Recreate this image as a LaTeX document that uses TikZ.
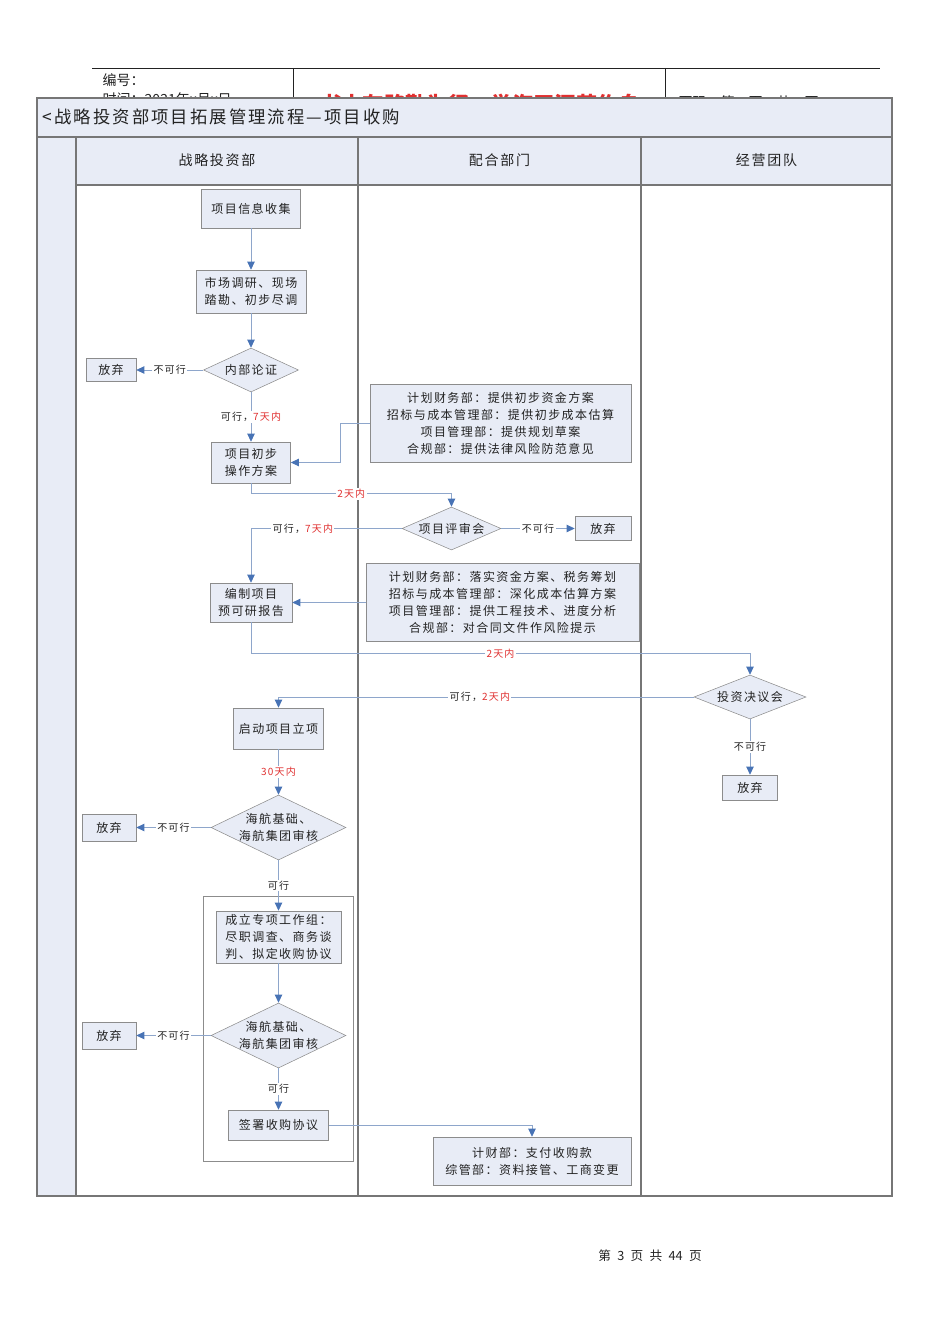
\documentclass[tikz,border=0pt]{standalone}
\usepackage{fontspec}
\setmainfont{Noto Sans CJK SC}[LetterSpace=12]
\newfontfamily\plain{Noto Sans CJK SC}
\usetikzlibrary{arrows.meta,shapes.geometric}
\definecolor{ink}{HTML}{222222}
\definecolor{pale}{HTML}{E8ECF6}
\definecolor{rule}{HTML}{8C8C8C}
\definecolor{frame}{HTML}{767676}
\definecolor{wire}{HTML}{8EA6CB}
\definecolor{arrowblue}{HTML}{4873B5}
\definecolor{hot}{HTML}{E03030}
\newcommand{\due}[1]{\textcolor{hot}{#1}}

\begin{document}
\begin{tikzpicture}[x=0.75pt,y=-0.75pt,text=ink,
 box/.style={draw=rule,fill=pale,inner sep=2pt,align=center,font=\fontsize{9pt}{12.75pt}\selectfont},
 gate/.style={diamond,draw=rule,fill=pale,inner sep=0pt},
 gt/.style={label={[font=\fontsize{9pt}{12.75pt}\selectfont,align=center]center:{#1}}},
 sz/.style 2 args={minimum width=#1*0.75pt,minimum height=#2*0.75pt},
 link/.style={draw=wire,line width=.6pt,-{Triangle[length=6pt,width=5.5pt,color=arrowblue]}},
 lbl/.style={fill=white,inner sep=1pt,font=\fontsize{7.5pt}{9pt}\selectfont},
 lane/.style={font=\fontsize{10.5pt}{12pt}\selectfont}]
\path[use as bounding box] (0,0) rectangle (950,1344);
\draw[ink,line width=.6pt] (92,68) -- (880,68);
\draw[ink,line width=.6pt] (293,68) -- (293,98) (665,68) -- (665,98);
\node[anchor=west,font=\plain\fontsize{10.5pt}{12pt}\selectfont] (code) at (98,80) {编号：};
\node[anchor=west,font=\plain\fontsize{10.5pt}{12pt}\selectfont] (date) at (98,99) {时间：2021年x月x日};
\node[font=\plain\fontsize{16pt}{18pt}\selectfont\bfseries,text=hot] (motto) at (480,105) {书山有路勤为径，学海无涯苦作舟};
\node[anchor=west,font=\plain\fontsize{10.5pt}{12pt}\selectfont] (pageno) at (674,102) {页码：第\quad{}页\quad{}共\quad{}页};
\fill[pale] (37,98) rectangle (892,185);
\fill[pale] (37,185) rectangle (76,1196);
\draw[frame,line width=.8pt] (37,98) rectangle (892,1196);
\draw[frame,line width=.8pt] (37,137) -- (892,137) (76,185) -- (892,185);
\draw[frame,line width=.8pt] (76,137) -- (76,1196) (358,137) -- (358,1196) (641,137) -- (641,1196);
\node[anchor=west,font=\fontsize{13pt}{15pt}\selectfont] (title) at (38,117) {<战略投资部项目拓展管理流程—项目收购};
\node[lane] (lane1) at (217,160) {战略投资部};
\node[lane] (lane2) at (499.5,160) {配合部门};
\node[lane] (lane3) at (766.5,160) {经营团队};
\node[box,sz={99}{39}] (info) at (251,208.5) {项目信息收集};
\node[box,sz={110}{43}] (survey) at (251,291.5) {市场调研、现场\\踏勘、初步尽调};
\node[gate,sz={95}{44},gt={内部论证}] (arg) at (251,370) {};
\node[box,sz={50}{23}] (drop1) at (111,370) {放弃};
\node[box,sz={79}{41}] (plan) at (251,462.5) {项目初步\\操作方案};
\node[box,sz={261}{78}] (coop1) at (500.5,423) {计划财务部：提供初步资金方案\\招标与成本管理部：提供初步成本估算\\项目管理部：提供规划草案\\合规部：提供法律风险防范意见};
\node[gate,sz={99}{43},gt={项目评审会}] (review) at (451.5,528.5) {};
\node[box,sz={56}{24}] (drop2) at (603,528.5) {放弃};
\node[box,sz={82}{39}] (report) at (251,602.5) {编制项目\\预可研报告};
\node[box,sz={273}{78}] (coop2) at (502.5,602.5) {计划财务部：落实资金方案、税务筹划\\招标与成本管理部：深化成本估算方案\\项目管理部：提供工程技术、进度分析\\合规部：对合同文件作风险提示};
\node[gate,sz={112}{44},gt={投资决议会}] (decide) at (750,697) {};
\node[box,sz={55}{25}] (drop3) at (750,787.5) {放弃};
\node[box,sz={90}{41}] (launch) at (278.5,728.5) {启动项目立项};
\node[gate,sz={135}{65},gt={海航基础、\\海航集团审核}] (audit1) at (278.5,827.5) {};
\node[box,sz={54}{27}] (drop4) at (109,827.5) {放弃};
\node[draw=rule,sz={150}{265}] (stage) at (278,1028.5) {};
\node[box,align=left,sz={125}{52}] (team) at (278.5,937) {成立专项工作组：\\尽职调查、商务谈\\判、拟定收购协议};
\node[gate,sz={135}{65},gt={海航基础、\\海航集团审核}] (audit2) at (278.5,1035.5) {};
\node[box,sz={54}{27}] (drop5) at (109,1035.5) {放弃};
\node[box,sz={100}{30}] (sign) at (278.5,1125) {签署收购协议};
\node[box,sz={198}{48}] (pay) at (532,1161) {计财部：支付收购款\\综管部：资料接管、工商变更};
\draw[link] (info) -- (survey);
\draw[link] (survey) -- (arg);
\draw[link] (arg) -- node[lbl]{不可行} (drop1);
\draw[link] (arg) -- node[lbl]{可行，\due{7天内}} (plan);
\draw[link] (coop1.west) -- ++(-29,0) |- (plan.east);
\draw[link] (plan.south) -- ++(0,10.5) -| node[lbl,pos=.25]{\due{2天内}} (review.north);
\draw[link] (review) -- node[lbl]{不可行} (drop2);
\draw[link] (review.west) -| node[lbl,pos=.328]{可行，\due{7天内}} (report.north);
\draw[link] (coop2.west) -- (report.east);
\draw[link] (report.south) -- ++(0,31) -| node[lbl,pos=.25]{\due{2天内}} (decide.north);
\draw[link] (decide.west) -| node[lbl,pos=.2575]{可行，\due{2天内}} (launch.north);
\draw[link] (decide) -- node[lbl]{不可行} (drop3);
\draw[link] (launch) -- node[lbl]{\due{30天内}} (audit1);
\draw[link] (audit1) -- node[lbl]{不可行} (drop4);
\draw[link] (audit1) -- node[lbl]{可行} (team);
\draw[link] (team) -- (audit2);
\draw[link] (audit2) -- node[lbl]{不可行} (drop5);
\draw[link] (audit2) -- node[lbl]{可行} (sign);
\draw[link] (sign.east) -| (pay.north);
\node[font=\plain\fontsize{9.5pt}{11pt}\selectfont] (foot) at (650,1256) {第\enspace{}3\enspace{}页\enspace{}共\enspace{}44\enspace{}页};
\end{tikzpicture}
\end{document}
